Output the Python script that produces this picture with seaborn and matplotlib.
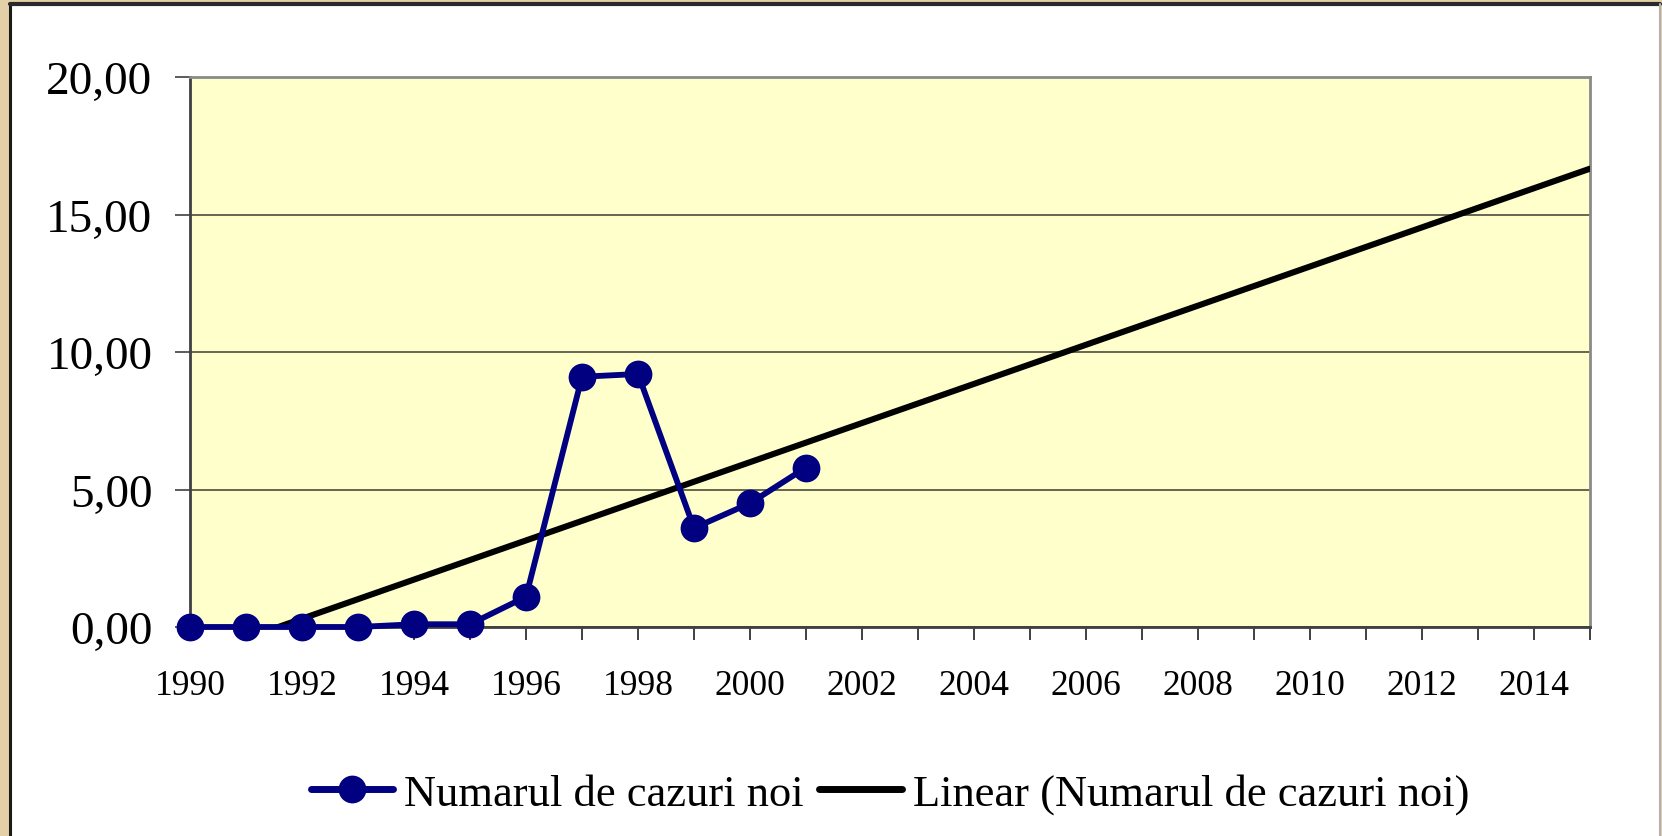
import numpy as np
import pandas as pd
import seaborn as sns
import matplotlib.pyplot as plt
from matplotlib.patches import Rectangle
from matplotlib.lines import Line2D

years = [1990, 1991, 1992, 1993, 1994, 1995, 1996, 1997, 1998, 1999, 2000, 2001]
cazuri_noi = [0.0, 0.0, 0.0, 0.0, 0.1, 0.1, 1.1, 9.1, 9.2, 3.6, 4.5, 5.8]
trend_years = [1990, 2015]
y_ticks = [0, 5, 10, 15, 20]
y_tick_labels = ['0,00', '5,00', '10,00', '15,00', '20,00']
series_label = 'Numarul de cazuri noi'
trend_label = 'Linear (Numarul de cazuri noi)'

df = pd.DataFrame({'an': years, 'cazuri': cazuri_noi})

# linear trend (least squares), extended forward like Excel's forecast
slope, intercept = np.polyfit(df['an'], df['cazuri'], 1)
trend = pd.DataFrame({'an': trend_years})
trend['val'] = slope * trend['an'] + intercept

sns.set_theme(style='white')
plt.rcParams['font.family'] = ['Liberation Serif', 'DejaVu Serif']
plt.rcParams['text.color'] = 'black'
plt.rcParams['xtick.color'] = 'black'
plt.rcParams['ytick.color'] = 'black'

W, H = 1662, 837
fig = plt.figure(figsize=(W / 100, H / 100), dpi=100)
fig.patch.set_facecolor('#e4d0a6')

# white chart area with border (drawn beneath the axes)
fig.patches.append(Rectangle((10 / W, 0), (1660 - 10) / W, (H - 5) / H,
                             transform=fig.transFigure, facecolor='white',
                             edgecolor='none', zorder=-2))
fig.lines.append(Line2D([10 / W, 10 / W], [0, (H - 5) / H], transform=fig.transFigure,
                        color='#1a1a1a', lw=2.2, zorder=-1))
fig.lines.append(Line2D([10 / W, 1660 / W], [(H - 5) / H, (H - 5) / H],
                        transform=fig.transFigure, color='#2a2a2a', lw=3, zorder=-1))
fig.lines.append(Line2D([1660 / W, 1660 / W], [0, (H - 5) / H], transform=fig.transFigure,
                        color='#b0b0b0', lw=1.5, zorder=-1))

ax = fig.add_axes([190 / W, (H - 628) / H, 1400 / W, 550 / H])
ax.set_facecolor('#ffffcc')

sns.lineplot(data=trend, x='an', y='val', color='black', linewidth=4.4,
             label=trend_label, ax=ax, zorder=3)
sns.lineplot(data=df, x='an', y='cazuri', color='#000080', linewidth=4.2,
             marker='o', markersize=20, markeredgewidth=0,
             label=series_label, ax=ax, zorder=4)
ax.lines[-1].set_clip_on(False)

ax.set_xlim(1990, 2015)
ax.set_ylim(0, 20)
ax.set_xticks(range(1990, 2016))
ax.set_xticklabels([str(y) if y % 2 == 0 and y < 2015 else '' for y in range(1990, 2016)],
                   fontsize=25.5)
ax.set_yticks(y_ticks)
ax.set_yticklabels(y_tick_labels, fontsize=34)
ax.set_xlabel('')
ax.set_ylabel('')

ax.yaxis.grid(True, color='#3c3c30', linewidth=1.1)
ax.set_axisbelow(True)
ax.tick_params(axis='y', direction='out', length=11, width=1.2, color='#404040', pad=16, left=True)
ax.tick_params(axis='x', direction='out', length=9, width=1.4, color='#404040', pad=21, bottom=True)

for side in ['left', 'bottom']:
    ax.spines[side].set_color('#404040')
    ax.spines[side].set_linewidth(2)
for side in ['top', 'right']:
    ax.spines[side].set_color('#8a8a8a')
    ax.spines[side].set_linewidth(2)

handles, labels = ax.get_legend_handles_labels()
ax.get_legend().remove()
order = [labels.index(series_label), labels.index(trend_label)]
leg = fig.legend([handles[i] for i in order], [labels[i] for i in order],
                 loc='center', bbox_to_anchor=(890 / W, (H - 795) / H), ncol=2,
                 frameon=False, fontsize=32, handlelength=1.85, handletextpad=0.25,
                 columnspacing=0.35)
for line in leg.get_lines():
    line.set_linewidth(5)

fig.savefig('out.png', dpi=100, facecolor=fig.get_facecolor())
